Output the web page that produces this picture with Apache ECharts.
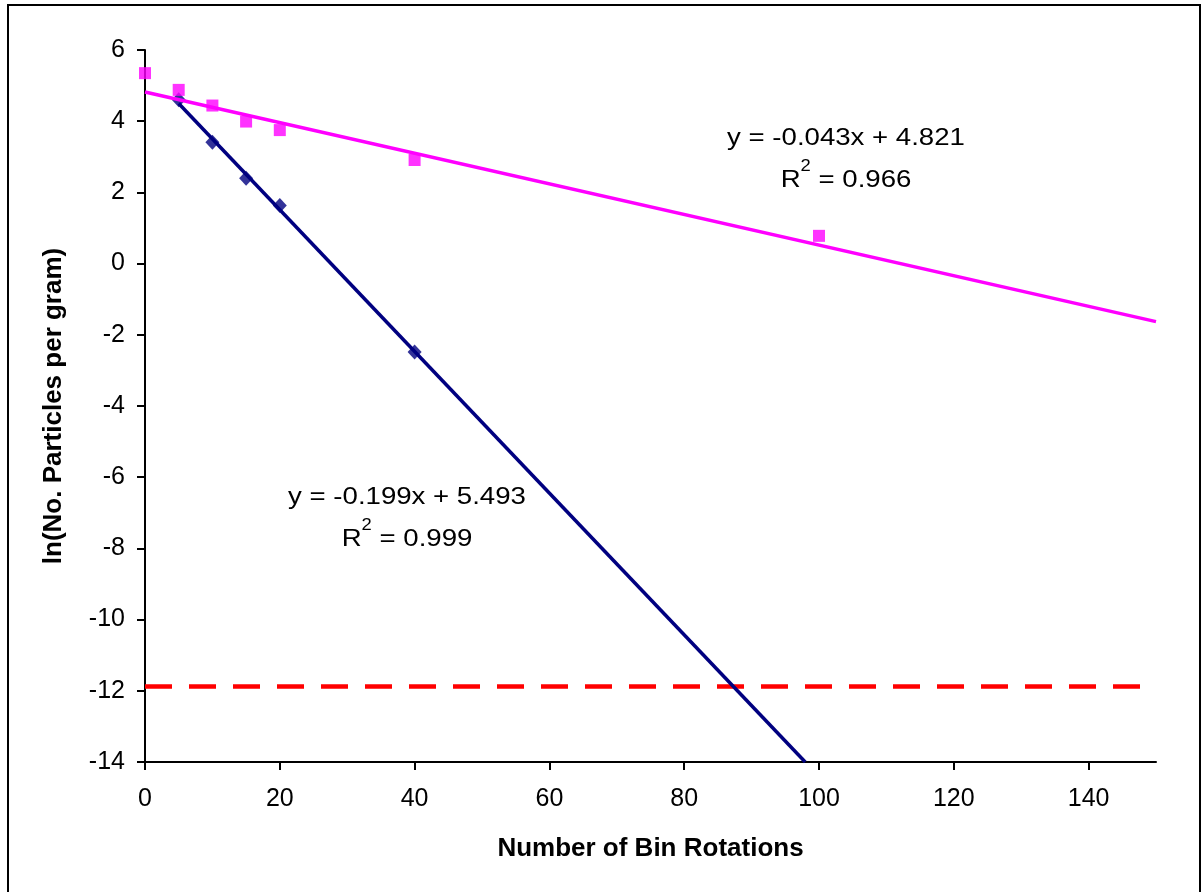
<!DOCTYPE html>
<html>
<head>
<meta charset="utf-8">
<script src="https://cdn.jsdelivr.net/npm/echarts@6/dist/echarts.min.js"></script>
<style>
  html, body { margin: 0; padding: 0; background: #fff; }
  #main { width: 1203px; height: 892px; }
</style>
</head>
<body>
<div id="main"></div>
<script>
  // 测量点 (magenta squares)
  const pinkX = [0, 5, 10, 15, 20, 40, 100];
  const pinkY = [5.35, 4.88, 4.44, 3.99, 3.75, 2.91, 0.78];
  // 测量点 (navy diamonds)
  const navyX = [5, 10, 15, 20, 40];
  const navyY = [4.6, 3.41, 2.40, 1.63, -2.48];
  // trend line coefficients [slope, intercept]
  const pinkFit = [-0.043, 4.821];
  const navyFit = [-0.199, 5.493];
  // detection limit line
  const limitY = -11.88;
  const xTicks = [0, 20, 40, 60, 80, 100, 120, 140];
  const yMin = -14, yMax = 6, xMax = 150;

  const font = 'Liberation Sans, Arial, sans-serif';
  let myChart = echarts.init(document.getElementById('main'));

  // trend lines, clipped where they leave the plot
  let pinkTrend = [[0, pinkFit[1]], [xMax, pinkFit[0] * xMax + pinkFit[1]]];
  let navyEnd = (yMin - navyFit[1]) / navyFit[0];
  let navyTrend = [[navyX[0], navyFit[0] * navyX[0] + navyFit[1]], [navyEnd, yMin]];

  let eqStyle = function (eq, r2) {
    return {
      text: eq + '\n{r|R}{sup|2}{r| = ' + r2 + '}',
      font: '24px ' + font,
      fill: '#000',
      align: 'center',
      verticalAlign: 'middle',
      lineHeight: 42,
      rich: {
        r: { fontSize: 24, fontFamily: font, lineHeight: 42 },
        sup: { fontSize: 16, fontFamily: font, verticalAlign: 'top', lineHeight: 42, padding: [0, 0, 10, 0] }
      }
    };
  };

  let option = {
    animation: false,
    backgroundColor: '#fff',
    grid: { left: 145, right: 47, top: 50, bottom: 130, containLabel: false },
    xAxis: {
      type: 'value',
      min: 0, max: xMax, interval: 20,
      name: 'Number of Bin Rotations',
      nameLocation: 'middle',
      nameGap: 74,
      nameTextStyle: { fontFamily: font, fontSize: 26, fontWeight: 'bold', color: '#000' },
      axisLine: { show: true, onZero: false, lineStyle: { color: '#000', width: 2 } },
      axisTick: { show: true, length: 8, lineStyle: { color: '#000', width: 2 }, customValues: xTicks },
      axisLabel: { fontFamily: font, fontSize: 25, color: '#000', margin: 25, customValues: xTicks },
      splitLine: { show: false }
    },
    yAxis: {
      type: 'value',
      min: yMin, max: yMax, interval: 2,
      name: 'ln(No. Particles per gram)',
      nameLocation: 'middle',
      nameGap: 78,
      nameRotate: 90,
      nameTextStyle: { fontFamily: font, fontSize: 26, fontWeight: 'bold', color: '#000' },
      axisLine: { show: true, onZero: false, lineStyle: { color: '#000', width: 2 } },
      axisTick: { show: true, length: 8, lineStyle: { color: '#000', width: 2 } },
      axisLabel: { fontFamily: font, fontSize: 25, color: '#000', margin: 20 },
      splitLine: { show: false }
    },
    series: [
      {
        type: 'line',
        name: 'limit',
        data: [[0, limitY], [xMax, limitY]],
        symbol: 'none',
        lineStyle: { color: '#ff0000', width: 4.5, type: [27, 17] },
        z: 1
      },
      {
        type: 'line',
        name: 'navy trend',
        data: navyTrend,
        symbol: 'none',
        lineStyle: { color: '#000080', width: 3.5 },
        z: 2
      },
      {
        type: 'scatter',
        name: 'navy',
        data: navyX.map((x, i) => [x, navyY[i]]),
        symbol: 'diamond',
        symbolSize: [14, 15],
        itemStyle: { color: '#000080' },
        z: 3
      },
      {
        type: 'line',
        name: 'pink trend',
        data: pinkTrend,
        symbol: 'none',
        lineStyle: { color: '#ff00ff', width: 3.5 },
        z: 4
      },
      {
        type: 'scatter',
        name: 'pink',
        data: pinkX.map((x, i) => [x, pinkY[i]]),
        symbol: 'rect',
        symbolSize: 12,
        itemStyle: { color: '#ff00ff' },
        z: 5
      }
    ],
    graphic: [
      {
        type: 'rect',
        shape: { x: 8, y: 5, width: 1192, height: 900 },
        style: { fill: 'none', stroke: '#000', lineWidth: 2 },
        silent: true
      },
      {
        type: 'text',
        x: 846, y: 159,
        scaleX: 1.15,
        style: eqStyle('y = -0.043x + 4.821', '0.966')
      },
      {
        type: 'text',
        x: 407, y: 518,
        scaleX: 1.15,
        style: eqStyle('y = -0.199x + 5.493', '0.999')
      }
    ]
  };
  myChart.setOption(option);
</script>
</body>
</html>
